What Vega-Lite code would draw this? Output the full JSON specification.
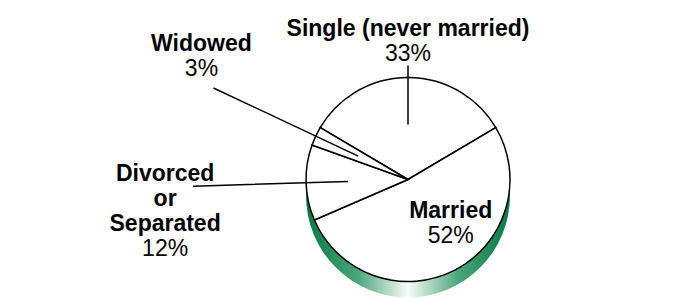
{
  "$schema": "https://vega.github.io/schema/vega-lite/v6.json",
  "width": 676,
  "height": 299,
  "autosize": {"type": "fit", "contains": "padding"},
  "padding": {"left": 140, "top": 57, "right": 0, "bottom": 0},
  "background": "white",
  "config": {"view": {"stroke": null}, "text": {"font": "Liberation Sans", "fontSize": 23, "color": "#000000"}},
  "data": {"values": [
    {"category": "Single (never married)", "pct": 0.33},
    {"category": "Married", "pct": 0.52},
    {"category": "Divorced or Separated", "pct": 0.12},
    {"category": "Widowed", "pct": 0.03}
  ]},
  "layer": [
    {
      "transform": [{"aggregate": [{"op": "count", "as": "n"}]}],
      "mark": {"type": "arc", "theta": 0, "theta2": 6.2832, "radius": 102, "yOffset": 16,
        "fill": {"gradient": "linear", "x1": 0, "x2": 1, "y1": 0, "y2": 0,
          "stops": [{"offset": 0, "color": "#067a47"}, {"offset": 0.25, "color": "#4aa57b"}, {"offset": 0.5, "color": "#f7fcf9"}, {"offset": 0.75, "color": "#4aa57b"}, {"offset": 1, "color": "#067a47"}]},
        "stroke": null},
      "encoding": {}
    },
    {
      "mark": {"type": "arc", "radius": 102, "fill": "#ffffff", "stroke": "#000000", "strokeWidth": 1.5},
      "encoding": {
        "theta": {"field": "pct", "type": "quantitative", "stack": true, "scale": {"domain": [0, 1], "range": [-1.2252, 5.058]}},
        "order": {"field": "category", "type": "ordinal", "sort": "descending"}
      }
    },
    {
      "mark": {"type": "arc", "radius": 114, "radius2": 55, "padAngle": 3.1416, "fill": null, "stroke": "#000000", "strokeWidth": 1.5},
      "encoding": {
        "theta": {"field": "pct", "type": "quantitative", "stack": true},
        "order": {"field": "category", "type": "ordinal", "sort": "descending"},
        "strokeOpacity": {"condition": {"test": "datum.category === 'Single (never married)'", "value": 1}, "value": 0}
      }
    },
    {
      "mark": {"type": "arc", "radius": 215, "radius2": 55, "padAngle": 3.1416, "fill": null, "stroke": "#000000", "strokeWidth": 1.5},
      "encoding": {
        "theta": {"field": "pct", "type": "quantitative", "stack": true},
        "order": {"field": "category", "type": "ordinal", "sort": "descending"},
        "strokeOpacity": {"condition": {"test": "datum.category === 'Widowed'", "value": 1}, "value": 0}
      }
    },
    {
      "mark": {"type": "arc", "radius": 215, "radius2": 60, "padAngle": 3.1416, "fill": null, "stroke": "#000000", "strokeWidth": 1.5},
      "encoding": {
        "theta": {"field": "pct", "type": "quantitative", "stack": true},
        "order": {"field": "category", "type": "ordinal", "sort": "descending"},
        "strokeOpacity": {"condition": {"test": "datum.category === 'Divorced or Separated'", "value": 1}, "value": 0}
      }
    },
    {
      "mark": {"type": "text", "radius": 126, "dy": -25, "fontWeight": "bold"},
      "encoding": {
        "theta": {"field": "pct", "type": "quantitative", "stack": true},
        "order": {"field": "category", "type": "ordinal", "sort": "descending"},
        "text": {"condition": {"test": "datum.category === 'Single (never married)'", "field": "category"}, "value": ""}
      }
    },
    {
      "mark": {"type": "text", "radius": 126},
      "encoding": {
        "theta": {"field": "pct", "type": "quantitative", "stack": true},
        "order": {"field": "category", "type": "ordinal", "sort": "descending"},
        "text": {"condition": {"test": "datum.category === 'Single (never married)'", "field": "pct", "type": "quantitative", "format": ".0%"}, "value": ""}
      }
    },
    {
      "mark": {"type": "text", "radius": 215, "dx": -12, "dy": -44, "fontWeight": "bold"},
      "encoding": {
        "theta": {"field": "pct", "type": "quantitative", "stack": true},
        "order": {"field": "category", "type": "ordinal", "sort": "descending"},
        "text": {"condition": {"test": "datum.category === 'Widowed'", "field": "category"}, "value": ""}
      }
    },
    {
      "mark": {"type": "text", "radius": 215, "dx": -12, "dy": -19},
      "encoding": {
        "theta": {"field": "pct", "type": "quantitative", "stack": true},
        "order": {"field": "category", "type": "ordinal", "sort": "descending"},
        "text": {"condition": {"test": "datum.category === 'Widowed'", "field": "pct", "type": "quantitative", "format": ".0%"}, "value": ""}
      }
    },
    {
      "mark": {"type": "text", "radius": 215, "dx": -28, "dy": -12, "fontWeight": "bold", "lineBreak": " ", "lineHeight": 25},
      "encoding": {
        "theta": {"field": "pct", "type": "quantitative", "stack": true},
        "order": {"field": "category", "type": "ordinal", "sort": "descending"},
        "text": {"condition": {"test": "datum.category === 'Divorced or Separated'", "field": "category"}, "value": ""}
      }
    },
    {
      "mark": {"type": "text", "radius": 215, "dx": -28, "dy": 63},
      "encoding": {
        "theta": {"field": "pct", "type": "quantitative", "stack": true},
        "order": {"field": "category", "type": "ordinal", "sort": "descending"},
        "text": {"condition": {"test": "datum.category === 'Divorced or Separated'", "field": "pct", "type": "quantitative", "format": ".0%"}, "value": ""}
      }
    },
    {
      "mark": {"type": "text", "radius": 50, "dx": 20, "dy": -13, "fontWeight": "bold"},
      "encoding": {
        "theta": {"field": "pct", "type": "quantitative", "stack": true},
        "order": {"field": "category", "type": "ordinal", "sort": "descending"},
        "text": {"condition": {"test": "datum.category === 'Married'", "field": "category"}, "value": ""}
      }
    },
    {
      "mark": {"type": "text", "radius": 50, "dx": 20, "dy": 12},
      "encoding": {
        "theta": {"field": "pct", "type": "quantitative", "stack": true},
        "order": {"field": "category", "type": "ordinal", "sort": "descending"},
        "text": {"condition": {"test": "datum.category === 'Married'", "field": "pct", "type": "quantitative", "format": ".0%"}, "value": ""}
      }
    }
  ]
}
